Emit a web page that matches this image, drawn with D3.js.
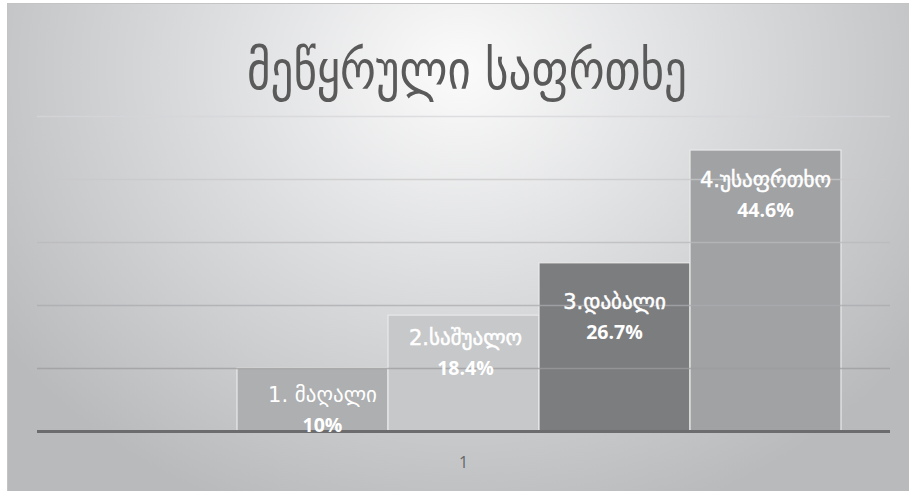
<!DOCTYPE html>
<html>
<head>
<meta charset="utf-8">
<script src="https://cdn.jsdelivr.net/npm/d3@7/dist/d3.min.js"></script>
<style>
  html, body { margin: 0; padding: 0; background: #ffffff; }
  svg { display: block; }
</style>
</head>
<body>
<script>
// Landslide hazard classes and their shares (%)
const categoryLabels = ["1"];
const classNames = ["1. მაღალი", "2.საშუალო", "3.დაბალი", "4.უსაფრთხო"];
const classValues = [10, 18.4, 26.7, 44.6];
const gridTicks = [0, 10, 20, 30, 40, 50];
const titleText = "მეწყრული საფრთხე";

const W = 909, H = 491;
const barColors = ["#aeafb1", "#c7c8ca", "#7c7d7f", "#a1a2a4"];
// vertical offset of each label block below its bar top
const labelOffset = [27, 23, 39, 30];
const labelShiftX = [10, 2, 0, 0];

const svg = d3.select("body").append("svg")
  .attr("width", W).attr("height", H);

const defs = svg.append("defs");
const bg = defs.append("radialGradient")
  .attr("id", "bgGrad")
  .attr("gradientUnits", "userSpaceOnUse")
  .attr("cx", 460).attr("cy", 70).attr("r", 560)
  .attr("gradientTransform", "translate(460,70) scale(1,0.85) translate(-460,-70)");
bg.append("stop").attr("offset", "0%").attr("stop-color", "#fbfbfb");
bg.append("stop").attr("offset", "45%").attr("stop-color", "#dcdddf");
bg.append("stop").attr("offset", "100%").attr("stop-color", "#b9babc");

// chart area
svg.append("rect")
  .attr("x", 7.5).attr("y", 3.5)
  .attr("width", W - 7).attr("height", H - 3)
  .attr("fill", "url(#bgGrad)")
  .attr("stroke", "#c4c4c4").attr("stroke-width", 1);

const plot = { left: 37, right: 890, top: 116, bottom: 431 };

const y = d3.scaleLinear()
  .domain([0, 50])
  .range([plot.bottom, plot.top]);

// category axis (single category)
const xCat = d3.scaleBand()
  .domain(categoryLabels)
  .range([plot.left, plot.right]);

// series slots inside the category; the first slot stays empty
const xSeries = d3.scaleBand()
  .domain(d3.range(classNames.length + 1))
  .range([plot.left, plot.right])
  .paddingInner(0)
  .paddingOuter(0.3245);

// title
svg.append("text")
  .attr("x", 467).attr("y", 89)
  .attr("text-anchor", "middle")
  .attr("font-family", "'DejaVu Sans', sans-serif")
  .attr("font-size", 54)
  .attr("fill", "#5a5a5a")
  .attr("textLength", 440)
  .attr("lengthAdjust", "spacingAndGlyphs")
  .text(titleText);

// bars
const bars = svg.append("g");
bars.selectAll("rect")
  .data(classValues)
  .join("rect")
  .attr("x", (d, i) => xSeries(i + 1))
  .attr("width", xSeries.bandwidth())
  .attr("y", d => y(d))
  .attr("height", d => y(0) - y(d))
  .attr("fill", (d, i) => barColors[i])
  .attr("stroke", "#e9e9ea")
  .attr("stroke-width", 1.2);

// gridlines, drawn over the bars so they show through
const gridColor = d3.interpolateRgb("#d6d6d8", "#8e8e90");
svg.append("g")
  .selectAll("line")
  .data(gridTicks.filter(t => t > 0))
  .join("line")
  .attr("x1", plot.left).attr("x2", plot.right)
  .attr("y1", d => Math.round(y(d)) + 0.5)
  .attr("y2", d => Math.round(y(d)) + 0.5)
  .attr("stroke", d => gridColor(1 - d / 50))
  .attr("stroke-opacity", 0.75)
  .attr("stroke-width", 1.4);

// baseline
svg.append("line")
  .attr("x1", plot.left).attr("x2", plot.right)
  .attr("y1", y(0) + 0.5).attr("y2", y(0) + 0.5)
  .attr("stroke", "#6c6c6e")
  .attr("stroke-width", 3);

// category label
svg.append("text")
  .attr("x", xCat("1") + xCat.bandwidth() / 2)
  .attr("y", 468)
  .attr("text-anchor", "middle")
  .attr("font-family", "'Open Sans', 'DejaVu Sans', sans-serif")
  .attr("font-size", 16)
  .attr("fill", "#666666")
  .text(categoryLabels[0]);

// data labels
const labels = svg.append("g")
  .attr("fill", "#ffffff")
  .attr("text-anchor", "middle");

classValues.forEach((v, i) => {
  const cx = xSeries(i + 1) + xSeries.bandwidth() / 2 + labelShiftX[i];
  const top = y(v) + labelOffset[i];
  labels.append("text")
    .attr("x", cx).attr("y", top + 7)
    .attr("font-family", "'DejaVu Sans', sans-serif")
    .attr("font-size", 21)
    .attr("stroke", "#ffffff")
    .attr("stroke-width", i === 0 ? 0 : 0.5)
    .text(classNames[i]);
  labels.append("text")
    .attr("x", cx).attr("y", top + 37)
    .attr("font-family", "'Open Sans', Lato, sans-serif")
    .attr("font-size", 19.5)
    .attr("font-weight", "bold")
    .text(d3.format(".3~")(v) + "%");
});
</script>
</body>
</html>
